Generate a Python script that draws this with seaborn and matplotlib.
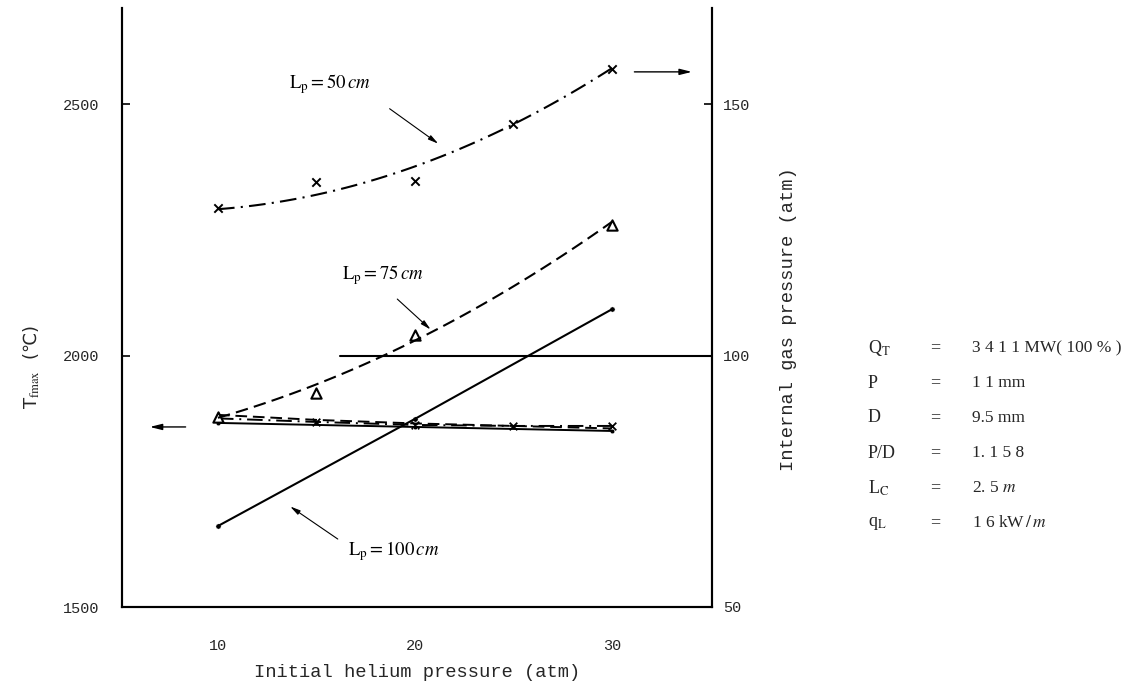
import numpy as np
import pandas as pd
import matplotlib
matplotlib.use("Agg")
import matplotlib.pyplot as plt
import seaborn as sns

# ---------------- data ----------------
# Internal gas pressure (atm, right axis) - markers
x5 = [10, 15, 20, 25, 30]
gas_50 = [129.3, 134.5, 134.7, 146.0, 157.0]          # x markers
x4 = [10, 15, 20, 30]
gas_75 = [87.8, 92.6, 104.0, 125.9]                    # triangle markers
x3 = [10, 20, 30]
gas_100 = [66.1, 87.4, 109.2]                          # dot markers

# smooth drawn curves (atm) read at 10,15,20,25,30
curve_50 = [129.3, 131.5, 137.8, 146.2, 157.0]
curve_75 = [88.0, 93.5, 103.0, 114.5, 126.2]

# Tfmax (deg C, left axis) cluster
tf_50 = [1875, 1868, 1862, 1860, 1860]
tf_75 = [1882, 1872, 1865, 1860, 1855]
tf_100 = [1866, 1858, 1850]

params_sym = [r"Q$_\mathrm{T}$", "P", "D", "P/D", r"L$_\mathrm{C}$", r"q$_\mathrm{L}$"]
params_val = ["3 4 1 1 MW( 100 % )", "1 1 mm", "9.5 mm", "1. 1 5 8", r"2. 5 $m$", r"1 6 kW$\,/\,m$"]

# ---------------- style ----------------
sns.set_theme(style="white")
plt.rcParams["font.family"] = ["Liberation Serif", "DejaVu Sans"]
plt.rcParams["mathtext.fontset"] = "stix"

fig = plt.figure(figsize=(11.39, 6.92), dpi=100)
ax = fig.add_axes([122 / 1139, 1 - 607 / 692, (712 - 122) / 1139, (607 - 8) / 692])
ax2 = ax.twinx()

XL = (5.13, 35.08)
ax.set_xlim(*XL)
ax.set_ylim(1500, 2691)
ax2.set_ylim(50, 169.1)

dashdot = (8, 3, 1, 3)
dashed = (6, 3)

# --- gas pressure curves (right axis)
xs = np.linspace(10, 30, 100)
c50 = np.polyval(np.polyfit(x5, curve_50, 2), xs)
c75 = np.polyval(np.polyfit(x5, curve_75, 2), xs)
df50 = pd.DataFrame({"x": xs, "y": c50})
df75 = pd.DataFrame({"x": xs, "y": c75})
sns.lineplot(data=df50, x="x", y="y", ax=ax2, color="black", lw=1.5)
ax2.lines[-1].set_dashes(dashdot)
sns.lineplot(data=df75, x="x", y="y", ax=ax2, color="black", lw=1.5)
ax2.lines[-1].set_dashes(dashed)
sns.lineplot(x=x3, y=gas_100, ax=ax2, color="black", lw=1.5)

sns.scatterplot(x=x5, y=gas_50, ax=ax2, marker="x", color="black", s=36, linewidth=1.4)
sns.scatterplot(x=x4, y=gas_75, ax=ax2, marker="^", facecolor="white", edgecolor="black", s=55, linewidth=1.5)
sns.scatterplot(x=x3, y=gas_100, ax=ax2, marker="o", color="black", s=14)

# 100 atm reference line
ax2.plot([16.2, XL[1]], [100, 100], color="black", lw=1.5)

# --- Tfmax cluster (left axis)
sns.lineplot(x=x5, y=tf_50, ax=ax, color="black", lw=1.4)
ax.lines[-1].set_dashes(dashdot)
sns.lineplot(x=x5, y=tf_75, ax=ax, color="black", lw=1.4)
ax.lines[-1].set_dashes(dashed)
sns.lineplot(x=x3, y=tf_100, ax=ax, color="black", lw=1.4)
sns.scatterplot(x=x5[1:], y=tf_50[1:], ax=ax, marker="x", color="black", s=30, linewidth=1.3)
sns.scatterplot(x=[10], y=[tf_75[0]], ax=ax, marker="^", color="black", s=45)
sns.scatterplot(x=x3, y=tf_100, ax=ax, marker="o", color="black", s=10)

# direction arrows
ax.annotate("", xy=(6.4, 1858), xytext=(8.5, 1858),
            arrowprops=dict(arrowstyle="-|>,head_length=0.6,head_width=0.15", color="black", lw=1.0))
ax2.annotate("", xy=(34.2, 156.4), xytext=(31.0, 156.4),
             arrowprops=dict(arrowstyle="-|>,head_length=0.6,head_width=0.15", color="black", lw=1.0))

# labels with arrows
lab_kw = dict(fontsize=13.5, color="black")
ax.text(13.6, 2540, r"$\mathrm{L_p = 50}\,cm$", ha="left", va="center", **lab_kw)
ax.annotate("", xy=(21.3, 2418), xytext=(18.6, 2494),
            arrowprops=dict(arrowstyle="-|>,head_length=0.5,head_width=0.12", color="black", lw=0.8))
ax.text(16.3, 2161, r"$\mathrm{L_p = 75}\,cm$", ha="left", va="center", **lab_kw)
ax.annotate("", xy=(20.9, 2048), xytext=(19.0, 2116),
            arrowprops=dict(arrowstyle="-|>,head_length=0.5,head_width=0.12", color="black", lw=0.8))
ax.text(16.6, 1612, r"$\mathrm{L_p = 100}\,cm$", ha="left", va="center", **lab_kw)
ax.annotate("", xy=(13.55, 1703), xytext=(16.2, 1632),
            arrowprops=dict(arrowstyle="-|>,head_length=0.5,head_width=0.12", color="black", lw=0.8))

# ---------------- axes styling ----------------
mono = ["Liberation Mono", "DejaVu Sans"]
for a in (ax, ax2):
    a.spines["top"].set_visible(False)
    for s in ("left", "right", "bottom"):
        a.spines[s].set_color("black")
        a.spines[s].set_linewidth(1.5)
    a.grid(False)

ax.set_xticks([10, 20, 30])
ax.set_yticks([1500, 2000, 2500])
ax2.set_yticks([50, 100, 150])
ax.tick_params(axis="y", direction="in", length=6, width=1.2, color="black", labelsize=11, pad=16)
ax.tick_params(axis="x", direction="in", length=6, width=1.2, color="black", labelsize=11, pad=23)
ax2.tick_params(axis="y", direction="in", length=6, width=1.2, color="black", labelsize=11, pad=8)
for lab in ax.get_xticklabels() + ax.get_yticklabels() + ax2.get_yticklabels():
    lab.set_family(mono)

ax.set_xlabel("Initial helium pressure (atm)", family=mono, fontsize=13.5, labelpad=8)
ax.set_ylabel(r"T$_{\mathrm{fmax}}$  (℃)", family=["DejaVu Sans"], fontsize=13)
ax.yaxis.set_label_coords(-0.135, 0.40)
ax2.set_ylabel("Internal gas pressure (atm)", family=mono, fontsize=13.5)
ax2.yaxis.set_label_coords(1.115, 0.48)

# parameter block
y0 = 348
for i, (s, v) in enumerate(zip(params_sym, params_val)):
    yy = 1 - (y0 + i * 35) / 692
    fig.text(868 / 1139, yy, s, ha="left", va="center", fontsize=13)
    fig.text(935 / 1139, yy, "=", ha="center", va="center", fontsize=13)
    fig.text(972 / 1139, yy, v, ha="left", va="center", fontsize=12.5)

fig.savefig("out.png", dpi=100)
